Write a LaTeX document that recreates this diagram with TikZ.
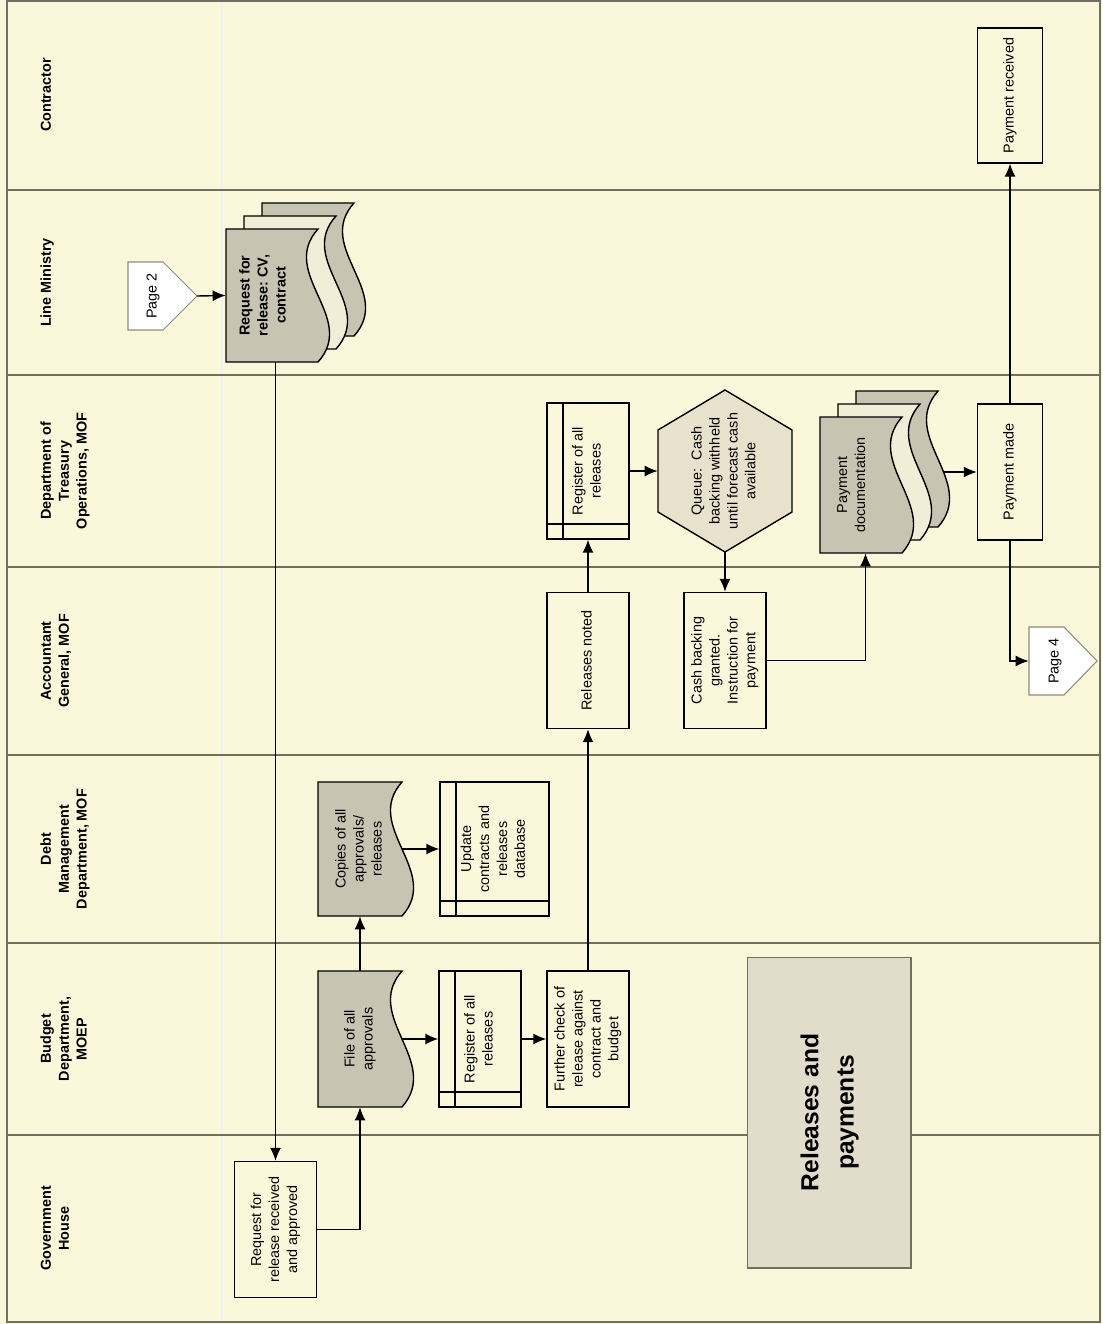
\documentclass[tikz,border=0pt]{standalone}
\usepackage{fontspec}
\setmainfont{Liberation Sans}
\usepackage{graphicx}
\usetikzlibrary{arrows.meta,calc}
\frenchspacing
\definecolor{pagecream}{HTML}{FAF7DA}
\definecolor{laneline}{HTML}{707062}
\definecolor{docgrey}{HTML}{C8C4B2}
\definecolor{doclight}{HTML}{F1EED8}
\definecolor{queuefill}{HTML}{E8E2CC}
\definecolor{titlefill}{HTML}{E2DCCA}
\definecolor{pageedge}{HTML}{8C8C7A}
\newcommand{\vtext}[1]{\rotatebox{90}{\begin{tabular}{@{}c@{}}#1\end{tabular}}}
\newcommand{\docshape}[5]{%
  \draw[docline,fill=#5] (#1,#2) -- ++(#3,0)
    .. controls +(-40,#4/3) and +(40,-#4/3) .. ++(0,#4) -- (#1,#2+#4) -- cycle;}
\tikzset{
  lanelabel/.style={font=\fontsize{8.2}{10.2}\selectfont\bfseries,inner sep=0pt,anchor=west},
  procbox/.style={draw,line width=0.8pt,fill=pagecream,inner sep=0pt,
    minimum width=1.64cm,minimum height=2.72cm,font=\fontsize{8.2}{10.2}\selectfont},
  regbox/.style={procbox,path picture={
    \draw[line width=0.8pt] ([xshift=0.32cm]path picture bounding box.north west)
      -- ([xshift=0.32cm]path picture bounding box.south west);
    \draw[line width=0.8pt] ([yshift=0.3cm]path picture bounding box.south west)
      -- ([yshift=0.3cm]path picture bounding box.south east);}},
  doctext/.style={inner sep=0pt,minimum width=1.68cm,minimum height=2.72cm,
    font=\fontsize{8.2}{10.2}\selectfont},
  docline/.style={draw=black,line width=0.8pt},
  offpage/.style={draw=pageedge,fill=white,line width=0.6pt},
  pagetext/.style={inner sep=0pt,minimum width=1.0cm,font=\fontsize{8.2}{10.2}\selectfont},
  flow/.style={-{Latex[length=2.6mm,width=2.2mm]},line width=0.8pt},
  lanerule/.style={draw=laneline,line width=0.7pt}
}
\begin{document}
\begin{tikzpicture}[x=0.02cm,y=-0.02cm]
  \useasboundingbox (0,0) rectangle (1102,1324);
  \fill[pagecream] (0,0) rectangle (1102,1324);
  \draw[black!5,line width=0.6pt] (222,2) -- (222,1321);
  \foreach \y in {190,375,567,755,943,1135}
    \draw[lanerule] (7,\y) -- (1100,\y);
  \draw[lanerule] (7,1) rectangle (1100,1322);

  % lane names
  \node[lanelabel] (lcontr) at (38,95) {\vtext{Contractor}};
  \node[lanelabel] (lline) at (38,282.5) {\vtext{Line Ministry}};
  \node[lanelabel] (ltreas) at (38,471) {\vtext{Department of\\Treasury\\Operations, MOF}};
  \node[lanelabel] (lacc) at (38,661) {\vtext{Accountant\\General, MOF}};
  \node[lanelabel] (ldebt) at (38,849) {\vtext{Debt\\Management\\Department, MOF}};
  \node[lanelabel] (lbudg) at (38,1039) {\vtext{Budget\\Department,\\MOEP}};
  \node[lanelabel] (lgov) at (38,1228.5) {\vtext{Government\\House}};

  % line ministry
  \draw[offpage] (128,262) -- (163,262) -- (197,296) -- (163,330) -- (128,330) -- cycle;
  \node[pagetext] (page2) at (153,296) {\vtext{Page 2}};
  \coordinate (page2tip) at (197,296);
  \docshape{262}{203}{92}{133}{docgrey}
  \docshape{244}{216}{92}{133}{doclight}
  \docshape{226}{229}{92}{133}{docgrey}
  \node[doctext,minimum width=1.52cm,minimum height=2.66cm,
    font=\fontsize{8.2}{10.2}\selectfont\bfseries] (reqdoc) at (264,295.5)
    {\vtext{Request for\\release: CV,\\contract}};

  % government house
  \node[procbox] (govreq) at (275.5,1229.5) {\vtext{Request for\\release received\\and approved}};

  % budget department
  \docshape{318}{971}{84}{136}{docgrey}
  \node[doctext] (fileapp) at (360,1039) {\vtext{File of all\\approvals}};
  \node[regbox] (budreg) at (480,1039) {\vtext{Register of all\\releases}};
  \node[procbox] (further) at (588,1039) {\vtext{Further check of\\release against\\contract and\\budget}};
  \node[draw=laneline,fill=titlefill,line width=0.6pt,minimum width=3.28cm,minimum height=6.22cm,
    font=\fontsize{14}{20}\selectfont\bfseries] (title) at (829,1112.5) {\vtext{Releases and\\payments}};

  % debt management
  \docshape{318}{782}{84}{134}{docgrey}
  \node[doctext,minimum height=2.68cm] (copies) at (360,849) {\vtext{Copies of all\\approvals/\\releases}};
  \node[regbox,minimum width=2.18cm,minimum height=2.68cm] (update) at (494.5,849)
    {\vtext{Update\\contracts and\\releases\\database}};

  % accountant general
  \node[procbox] (noted) at (588,660.5) {\vtext{Releases noted}};
  \node[procbox] (cash) at (725,660.5) {\vtext{Cash backing\\granted.\\Instruction for\\payment}};
  \draw[offpage] (1029,627) -- (1064,627) -- (1097,661) -- (1064,695) -- (1029,695) -- cycle;
  \node[pagetext,minimum width=1.04cm] (page4) at (1055,661) {\vtext{Page 4}};

  % treasury operations
  \node[regbox] (treasreg) at (588,471) {\vtext{Register of all\\releases}};
  \draw[docline,fill=queuefill] (725,390) -- (792,430) -- (792,512) -- (725,552)
    -- (658,512) -- (658,430) -- cycle;
  \node[doctext,minimum width=2.68cm,minimum height=3.24cm] (queue) at (725,471)
    {\vtext{Queue:~ Cash\\backing withheld\\until forecast cash\\available}};
  \docshape{856}{391}{82}{136}{docgrey}
  \docshape{838}{404}{82}{136}{doclight}
  \docshape{820}{417}{82}{136}{docgrey}
  \node[doctext,minimum width=1.3cm] (paydoc) at (852.5,485) {\vtext{Payment\\documentation}};
  \coordinate (paydocout) at (944,472);
  \node[procbox,minimum width=1.3cm] (paymade) at (1010,472) {\vtext{Payment made}};

  % contractor
  \node[procbox,minimum width=1.3cm,minimum height=2.7cm] (payrec) at (1010,95.5) {\vtext{Payment received}};

  % connectors
  \draw[flow] (page2tip) -- (reqdoc.west);
  \draw[flow] (govreq.north |- reqdoc.south) -- (govreq.north);
  \draw[flow] (govreq.east) -| (fileapp.south);
  \draw[flow] (fileapp.north) -- (copies.south);
  \draw[flow] (copies.east) -- (update.west);
  \draw[flow] (fileapp.east) -- (budreg.west);
  \draw[flow] (budreg.east) -- (further.west);
  \draw[flow] (further.north) -- (noted.south);
  \draw[flow] (noted.north) -- (treasreg.south);
  \draw[flow] (treasreg.east) -- (queue.west);
  \draw[flow] (queue.south) -- (cash.north);
  \draw[flow] (cash.east) -| ($(paydoc.south)+(13,0)$);
  \draw[flow] (paydocout) -- (paymade.west);
  \draw[flow] (paymade.north) -- (payrec.south);
  \draw[flow] (paymade.south) |- (page4.west);
\end{tikzpicture}
\end{document}
